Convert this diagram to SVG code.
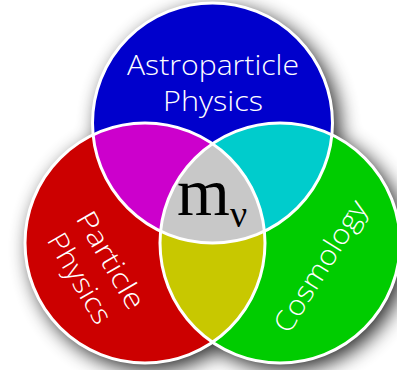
<svg xmlns="http://www.w3.org/2000/svg" width="397" height="370" viewBox="0 0 397 370">
<style>
.lbl{font-family:"Open Sans","Liberation Sans",sans-serif;font-size:28px;font-weight:300;fill:#fff;text-anchor:middle}
.ring{fill:none;stroke:#fff;stroke-width:3}
</style>
<defs>
<filter id="sh" x="-30%" y="-30%" width="160%" height="160%">
<feGaussianBlur in="SourceAlpha" stdDeviation="10"/>
<feOffset dx="6" dy="6" result="b"/>
<feComponentTransfer><feFuncA type="linear" slope="0.85"/></feComponentTransfer>
</filter>
<clipPath id="cR"><circle cx="145" cy="243" r="120"/></clipPath>
<clipPath id="cG"><circle cx="280" cy="243" r="120"/></clipPath>
<clipPath id="cB"><circle cx="212.5" cy="123" r="120"/></clipPath>
</defs>
<rect width="397" height="370" fill="#fff"/>
<g id="shadow" filter="url(#sh)">
<circle cx="212.5" cy="123" r="121"/>
<circle cx="145" cy="243" r="121"/>
<circle cx="280" cy="243" r="121"/>
</g>
<g id="blue"><circle cx="212.5" cy="123" r="120" fill="#0000cc"/></g>
<g id="red"><circle cx="145" cy="243" r="120" fill="#cc0000"/></g>
<g id="green"><circle cx="280" cy="243" r="120" fill="#00cc00"/></g>
<g id="magenta"><circle cx="212.5" cy="123" r="120" fill="#cc00cc" clip-path="url(#cR)"/></g>
<g id="cyan"><circle cx="212.5" cy="123" r="120" fill="#00cccc" clip-path="url(#cG)"/></g>
<g id="yellow"><circle cx="145" cy="243" r="120" fill="#c8c800" clip-path="url(#cG)"/></g>
<g id="center"><g clip-path="url(#cB)"><circle cx="145" cy="243" r="120" fill="#c8c8c8" clip-path="url(#cG)"/></g></g>
<g id="outlines">
<circle class="ring" cx="212.5" cy="123" r="120"/>
<circle class="ring" cx="145" cy="243" r="120"/>
<circle class="ring" cx="280" cy="243" r="120"/>
</g>
<g id="labels">
<text class="lbl" x="213" y="75" textLength="172" lengthAdjust="spacingAndGlyphs">Astroparticle</text>
<text class="lbl" x="213" y="111" textLength="100" lengthAdjust="spacingAndGlyphs">Physics</text>
<text class="lbl" transform="translate(111,260) rotate(60)" y="10" textLength="108" lengthAdjust="spacingAndGlyphs">Particle</text>
<text class="lbl" transform="translate(80,278) rotate(60)" y="10" textLength="100" lengthAdjust="spacingAndGlyphs">Physics</text>
<text class="lbl" transform="translate(320,266) rotate(-58)" y="10" textLength="150" lengthAdjust="spacingAndGlyphs">Cosmology</text>
<text x="177" y="215" font-family="Liberation Serif,serif" font-size="68" fill="#000">m<tspan font-size="38" dy="12">ν</tspan></text>
</g>
</svg>
